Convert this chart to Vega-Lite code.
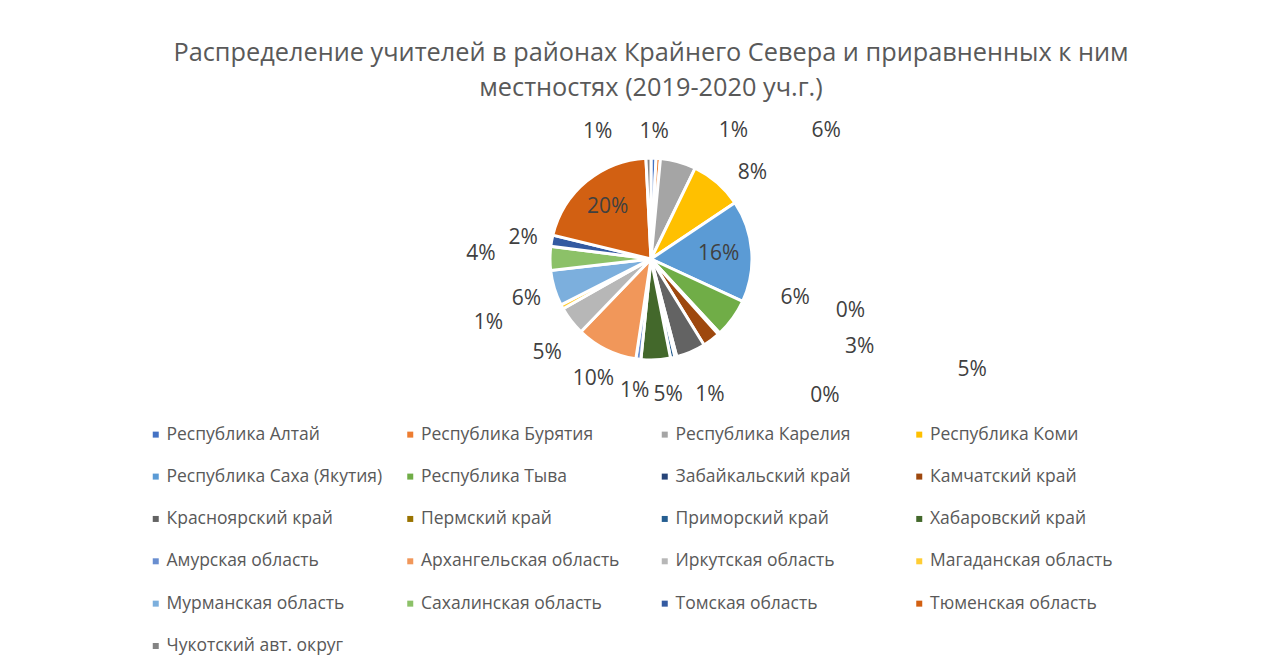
{
  "$schema": "https://vega.github.io/schema/vega-lite/v6.json",
  "autosize": "none",
  "padding": {"left": 21, "top": 100, "right": 0, "bottom": 250},
  "width": 1260,
  "height": 318,
  "background": "white",
  "config": {"view": {"stroke": null}, "text": {"font": "Open Sans", "fontSize": 21, "color": "#404040"}},
  "title": {
    "text": ["Распределение учителей в районах Крайнего Севера и приравненных к ним", "местностях (2019-2020 уч.г.)"],
    "font": "Open Sans",
    "fontSize": 25.3,
    "fontWeight": "normal",
    "color": "#595959",
    "lineHeight": 35,
    "anchor": "middle",
    "offset": -1
  },
  "data": {
    "values": [
      {"name": "Республика Алтай", "value": 0.8},
      {"name": "Республика Бурятия", "value": 0.7},
      {"name": "Республика Карелия", "value": 5.7},
      {"name": "Республика Коми", "value": 8.4},
      {"name": "Республика Саха (Якутия)", "value": 16.3},
      {"name": "Республика Тыва", "value": 6.2},
      {"name": "Забайкальский край", "value": 0.3},
      {"name": "Камчатский край", "value": 2.8},
      {"name": "Красноярский край", "value": 4.7},
      {"name": "Пермский край", "value": 0.3},
      {"name": "Приморский край", "value": 0.7},
      {"name": "Хабаровский край", "value": 4.7},
      {"name": "Амурская область", "value": 0.8},
      {"name": "Архангельская область", "value": 9.8},
      {"name": "Иркутская область", "value": 4.6},
      {"name": "Магаданская область", "value": 0.7},
      {"name": "Мурманская область", "value": 5.7},
      {"name": "Сахалинская область", "value": 3.8},
      {"name": "Томская область", "value": 1.8},
      {"name": "Тюменская область", "value": 20.4},
      {"name": "Чукотский авт. округ", "value": 0.8}
    ]
  },
  "transform": [
    {"joinaggregate": [{"op": "sum", "field": "value", "as": "total"}]},
    {"window": [{"op": "row_number", "as": "idx"}]},
    {"stack": "value", "groupby": [], "sort": [{"field": "idx", "order": "ascending"}], "as": ["s0", "s1"]},
    {"calculate": "(datum.s0 + datum.s1) / 2", "as": "mid"},
    {"calculate": "datum.value / datum.total", "as": "pct"}
  ],
  "layer": [
    {
      "mark": {"type": "arc", "outerRadius": 101, "stroke": "white", "strokeWidth": 3},
      "encoding": {
        "theta": {"field": "s0", "type": "quantitative", "scale": {"domain": [0, 100]}},
        "theta2": {"field": "s1"},
        "color": {
          "field": "name",
          "type": "nominal",
          "scale": {
            "domain": ["Республика Алтай", "Республика Бурятия", "Республика Карелия", "Республика Коми", "Республика Саха (Якутия)", "Республика Тыва", "Забайкальский край", "Камчатский край", "Красноярский край", "Пермский край", "Приморский край", "Хабаровский край", "Амурская область", "Архангельская область", "Иркутская область", "Магаданская область", "Мурманская область", "Сахалинская область", "Томская область", "Тюменская область", "Чукотский авт. округ"],
            "range": ["#4472C4", "#ED7D31", "#A5A5A5", "#FFC000", "#5B9BD5", "#70AD47", "#264478", "#9E480E", "#636363", "#997300", "#255E91", "#43682B", "#698ED0", "#F1975A", "#B7B7B7", "#FFCD33", "#7CAFDD", "#8CC168", "#335AA1", "#D26012", "#848484"]
          },
          "legend": {
            "title": null,
            "orient": "none",
            "legendX": 126,
            "legendY": 325.5,
            "direction": "horizontal",
            "columns": 4,
            "gridAlign": "all",
            "columnPadding": 18.5,
            "rowPadding": 23.35,
            "padding": 0,
            "symbolType": "square",
            "symbolSize": 36,
            "symbolStrokeWidth": 0,
            "labelOffset": 2,
            "labelFont": "Open Sans",
            "labelFontSize": 17.5,
            "labelColor": "#595959",
            "labelLimit": 400
          }
        }
      }
    },
    {
      "transform": [{"filter": {"field": "name", "oneOf": ["Республика Саха (Якутия)", "Тюменская область"]}}],
      "mark": {"type": "text", "radius": 68},
      "encoding": {"theta": {"field": "mid", "type": "quantitative"}, "text": {"field": "pct", "type": "quantitative", "format": ".0%"}}
    },
    {
      "transform": [{"filter": {"field": "name", "oneOf": ["Республика Алтай", "Амурская область", "Архангельская область", "Мурманская область", "Томская область"]}}],
      "mark": {"type": "text", "radius": 130, "dy": 3},
      "encoding": {"theta": {"field": "mid", "type": "quantitative"}, "text": {"field": "pct", "type": "quantitative", "format": ".0%"}}
    },
    {
      "transform": [{"filter": {"field": "name", "equal": "Чукотский авт. округ"}}],
      "mark": {"type": "text", "radius": 130, "dx": -50, "dy": 3},
      "encoding": {"theta": {"field": "mid", "type": "quantitative"}, "text": {"field": "pct", "type": "quantitative", "format": ".0%"}}
    },
    {
      "transform": [{"filter": {"field": "name", "equal": "Республика Бурятия"}}],
      "mark": {"type": "text", "radius": 130, "dx": 73, "dy": 2},
      "encoding": {"theta": {"field": "mid", "type": "quantitative"}, "text": {"field": "pct", "type": "quantitative", "format": ".0%"}}
    },
    {
      "transform": [{"filter": {"field": "name", "equal": "Республика Карелия"}}],
      "mark": {"type": "text", "radius": 130, "dx": 140, "dy": -3},
      "encoding": {"theta": {"field": "mid", "type": "quantitative"}, "text": {"field": "pct", "type": "quantitative", "format": ".0%"}}
    },
    {
      "transform": [{"filter": {"field": "name", "equal": "Республика Коми"}}],
      "mark": {"type": "text", "radius": 130, "dx": 16, "dy": 12},
      "encoding": {"theta": {"field": "mid", "type": "quantitative"}, "text": {"field": "pct", "type": "quantitative", "format": ".0%"}}
    },
    {
      "transform": [{"filter": {"field": "name", "equal": "Республика Тыва"}}],
      "mark": {"type": "text", "radius": 130, "dx": 39, "dy": -37},
      "encoding": {"theta": {"field": "mid", "type": "quantitative"}, "text": {"field": "pct", "type": "quantitative", "format": ".0%"}}
    },
    {
      "transform": [{"filter": {"field": "name", "equal": "Забайкальский край"}}],
      "mark": {"type": "text", "radius": 130, "dx": 112, "dy": -44},
      "encoding": {"theta": {"field": "mid", "type": "quantitative"}, "text": {"field": "pct", "type": "quantitative", "format": ".0%"}}
    },
    {
      "transform": [{"filter": {"field": "name", "equal": "Камчатский край"}}],
      "mark": {"type": "text", "radius": 130, "dx": 131, "dy": -16},
      "encoding": {"theta": {"field": "mid", "type": "quantitative"}, "text": {"field": "pct", "type": "quantitative", "format": ".0%"}}
    },
    {
      "transform": [{"filter": {"field": "name", "equal": "Красноярский край"}}],
      "mark": {"type": "text", "radius": 130, "dx": 270, "dy": -8},
      "encoding": {"theta": {"field": "mid", "type": "quantitative"}, "text": {"field": "pct", "type": "quantitative", "format": ".0%"}}
    },
    {
      "transform": [{"filter": {"field": "name", "equal": "Пермский край"}}],
      "mark": {"type": "text", "radius": 130, "dx": 142, "dy": 11},
      "encoding": {"theta": {"field": "mid", "type": "quantitative"}, "text": {"field": "pct", "type": "quantitative", "format": ".0%"}}
    },
    {
      "transform": [{"filter": {"field": "name", "equal": "Приморский край"}}],
      "mark": {"type": "text", "radius": 130, "dx": 31, "dy": 9},
      "encoding": {"theta": {"field": "mid", "type": "quantitative"}, "text": {"field": "pct", "type": "quantitative", "format": ".0%"}}
    },
    {
      "transform": [{"filter": {"field": "name", "equal": "Хабаровский край"}}],
      "mark": {"type": "text", "radius": 130, "dx": 11, "dy": 6},
      "encoding": {"theta": {"field": "mid", "type": "quantitative"}, "text": {"field": "pct", "type": "quantitative", "format": ".0%"}}
    },
    {
      "transform": [{"filter": {"field": "name", "equal": "Иркутская область"}}],
      "mark": {"type": "text", "radius": 130, "dx": -1, "dy": 14},
      "encoding": {"theta": {"field": "mid", "type": "quantitative"}, "text": {"field": "pct", "type": "quantitative", "format": ".0%"}}
    },
    {
      "transform": [{"filter": {"field": "name", "equal": "Магаданская область"}}],
      "mark": {"type": "text", "radius": 130, "dx": -48, "dy": 2},
      "encoding": {"theta": {"field": "mid", "type": "quantitative"}, "text": {"field": "pct", "type": "quantitative", "format": ".0%"}}
    },
    {
      "transform": [{"filter": {"field": "name", "equal": "Сахалинская область"}}],
      "mark": {"type": "text", "radius": 130, "dx": -40, "dy": -4},
      "encoding": {"theta": {"field": "mid", "type": "quantitative"}, "text": {"field": "pct", "type": "quantitative", "format": ".0%"}}
    }
  ]
}
